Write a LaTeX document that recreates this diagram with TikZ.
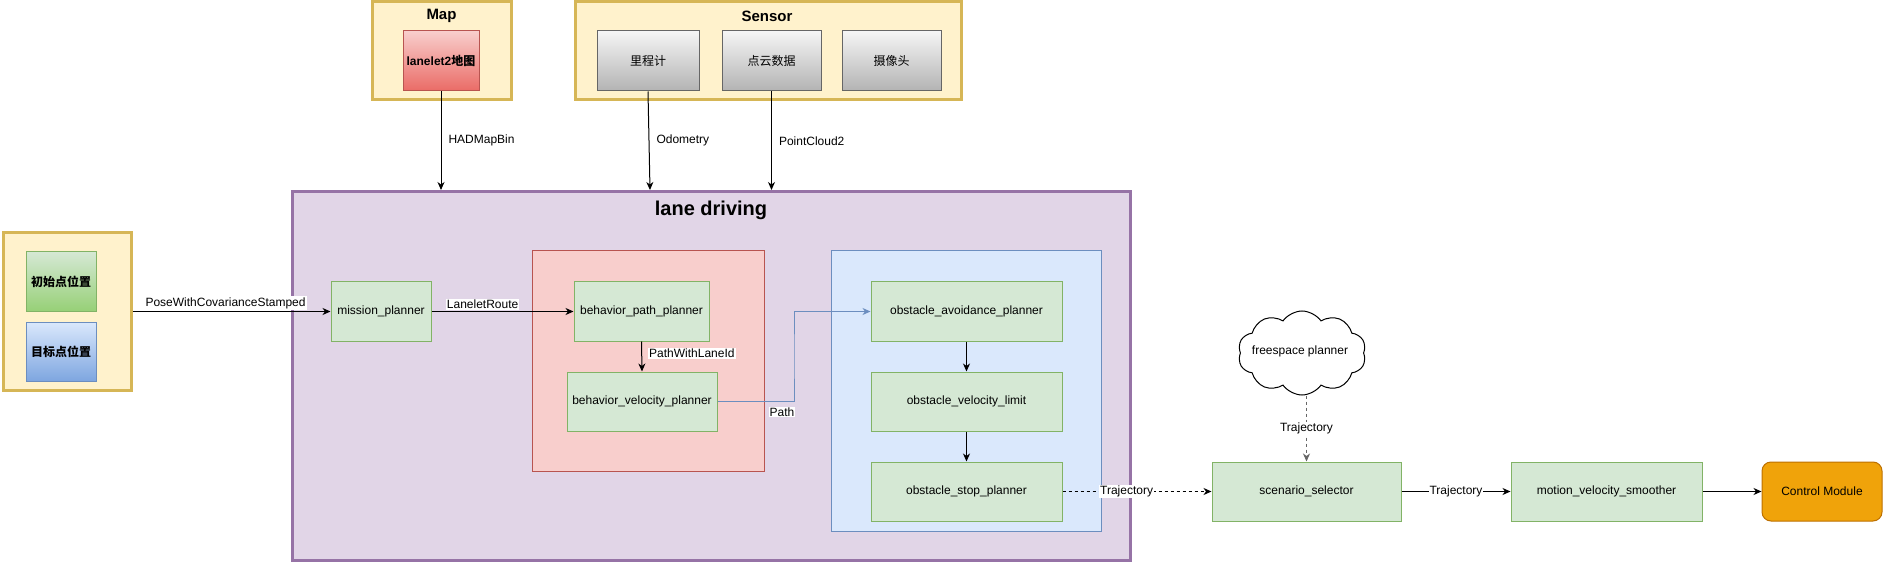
\documentclass[tikz,border=0pt]{standalone}
\usepackage{fontspec}
\setmainfont{Liberation Sans}
\newfontfamily\cjk{Noto Sans CJK SC}
\usetikzlibrary{shapes.symbols,arrows.meta,calc,positioning}
\definecolor{yfill}{HTML}{FFF2CC}
\definecolor{ybd}{HTML}{D6B656}
\definecolor{pfill}{HTML}{E1D5E7}
\definecolor{pbd}{HTML}{9673A6}
\definecolor{rfill}{HTML}{F8CECC}
\definecolor{rbd}{HTML}{B85450}
\definecolor{rdark}{HTML}{EA6B66}
\definecolor{bfill}{HTML}{DAE8FC}
\definecolor{bbd}{HTML}{6C8EBF}
\definecolor{bdark}{HTML}{7EA6E0}
\definecolor{gfill}{HTML}{D5E8D4}
\definecolor{gbd}{HTML}{82B366}
\definecolor{gdark}{HTML}{97D077}
\definecolor{grtop}{HTML}{F5F5F5}
\definecolor{grbot}{HTML}{B3B3B3}
\definecolor{grbd}{HTML}{666666}
\definecolor{ofill}{HTML}{F0A30A}
\definecolor{obd}{HTML}{BD7000}
\begin{document}
\begin{tikzpicture}[x=1pt,y=-1pt,
  every node/.style={font=\fontsize{12}{14}\selectfont},
  ybox/.style={draw=ybd, fill=yfill, line width=3pt},
  gbox/.style={draw=gbd, fill=gfill, line width=1pt, minimum height=59, inner sep=2pt, align=center},
  grbox/.style={draw=grbd, top color=grtop, bottom color=grbot, line width=1pt, minimum width=100, minimum height=60, inner sep=2pt},
  elab/.style={fill=white, inner sep=1pt},
  arr/.style={-{Stealth[length=8pt,width=7pt,inset=2.5pt]}, line width=1pt},
  ttl/.style={font=\fontsize{15}{18}\selectfont\bfseries}
]
\useasboundingbox (0,0) rectangle (1883,564);

% top groups
\node[ybox, minimum width=139, minimum height=98, inner sep=0] (map) at (441.5,51) {};
\node[ttl] (maptitle) at (441.5,16) {Map};
\node[draw=rbd, top color=rfill, bottom color=rdark, line width=1pt, minimum width=76, minimum height=60, inner sep=1pt] (lanelet) at (441,61) {\bfseries lanelet2{\cjk\bfseries 地图}};

\node[ybox, minimum width=386, minimum height=98, inner sep=0] (sensor) at (768,51) {};
\node[ttl] (sensortitle) at (767,16) {Sensor};
\node[grbox, minimum width=102] (odo) at (648,61) {\cjk 里程计};
\node[grbox, minimum width=99] (pc) at (771.5,61) {\cjk 点云数据};
\node[grbox, minimum width=99] (cam) at (891.5,61) {\cjk 摄像头};

% lane driving
\node[draw=pbd, fill=pfill, line width=3pt, minimum width=838, minimum height=369, inner sep=0] (lane) at (711.5,376) {};
\node[font=\fontsize{20}{24}\selectfont\bfseries] (lanetitle) at (711,210) {lane driving};

% left group
\node[ybox, minimum width=128, minimum height=157, inner sep=0] (left) at (67,311.5) {};
\node[draw=gbd, top color=gfill, bottom color=gdark, line width=1pt, minimum width=70, minimum height=59, inner sep=1pt] (init) at (61,281.5) {\cjk\bfseries 初始点位置};
\node[draw=bbd, top color=bfill, bottom color=bdark, line width=1pt, minimum width=70, minimum height=59, inner sep=1pt] (goal) at (61,351.5) {\cjk\bfseries 目标点位置};

% inner groups
\node[draw=rbd, fill=rfill, line width=1pt, minimum width=232, minimum height=220, inner sep=0] (red) at (648,361) {};
\node[draw=bbd, fill=bfill, line width=1pt, minimum width=270, minimum height=280, inner sep=0] (blue) at (966,391) {};

% planners
\node[gbox, minimum width=100] (mp) at (381,311.5) {mission\_planner};
\node[gbox, minimum width=135] (bpp) at (641.5,311.5) {behavior\_path\_planner};
\node[gbox, minimum width=150] (bvp) at (642,401.5) {behavior\_velocity\_planner};
\node[gbox, minimum width=191] (oap) at (966.5,311.5) {obstacle\_avoidance\_planner};
\node[gbox, minimum width=191] (ovl) at (966.5,401.5) {obstacle\_velocity\_limit};
\node[gbox, minimum width=191] (osp) at (966.5,491.5) {obstacle\_stop\_planner};

% right part
\node[cloud, draw=black, fill=white, line width=1pt, cloud puffs=10, cloud puff arc=110, aspect=1.5, minimum width=128, minimum height=84, inner sep=0] (fs) at (1302,353) {};
\node (fslabel) at (1300,351) {freespace planner};
\node[gbox, minimum width=189] (ss) at (1306.5,491.5) {scenario\_selector};
\node[gbox, minimum width=191] (mvs) at (1606.5,491.5) {motion\_velocity\_smoother};
\node[draw=obd, fill=ofill, line width=1pt, rounded corners=9pt, minimum width=120, minimum height=59] (cm) at (1822,491.5) {Control Module};

% connectors
\draw[arr] (lanelet.south) -- (lanelet.south |- lane.north) node[elab, pos=0.5, right=6pt] {HADMapBin};
\draw[arr] (odo.south) -- ($(odo.south |- lane.north)+(2,0)$) node[elab, pos=0.5, right=6pt] {Odometry};
\draw[arr] (pc.south) -- (pc.south |- lane.north) node[elab, pos=0.5, right=6pt] {PointCloud2};

\draw[arr] (left.east) -- (mp.west) node[elab, pos=0.47, above=1.5pt] {PoseWithCovarianceStamped};
\draw[arr] (mp.east) -- (bpp.west) node[elab, pos=0.36, above=1.5pt] {LaneletRoute};
\draw[arr] (bpp.south) -- (bvp.north) node[elab, pos=0.4, right=6pt] {PathWithLaneId};
\draw[arr, draw=bbd] (bvp.east) -| ($(bvp.east)!0.5!(oap.west)$) |- (oap.west);
\node[elab] (pathlbl) at (782,412) {Path};
\draw[arr] (oap.south) -- (ovl.north);
\draw[arr] (ovl.south) -- (osp.north);
\draw[arr, dashed] (osp.east) -- (ss.west) node[elab, pos=0.43] {Trajectory};
\draw[arr, dashed, draw=grbd] (ss.north |- fs.south) -- (ss.north) node[elab, pos=0.5] {Trajectory};
\draw[arr] (ss.east) -- (mvs.west) node[elab, pos=0.5] {Trajectory};
\draw[arr] (mvs.east) -- (cm.west);
\end{tikzpicture}
\end{document}
